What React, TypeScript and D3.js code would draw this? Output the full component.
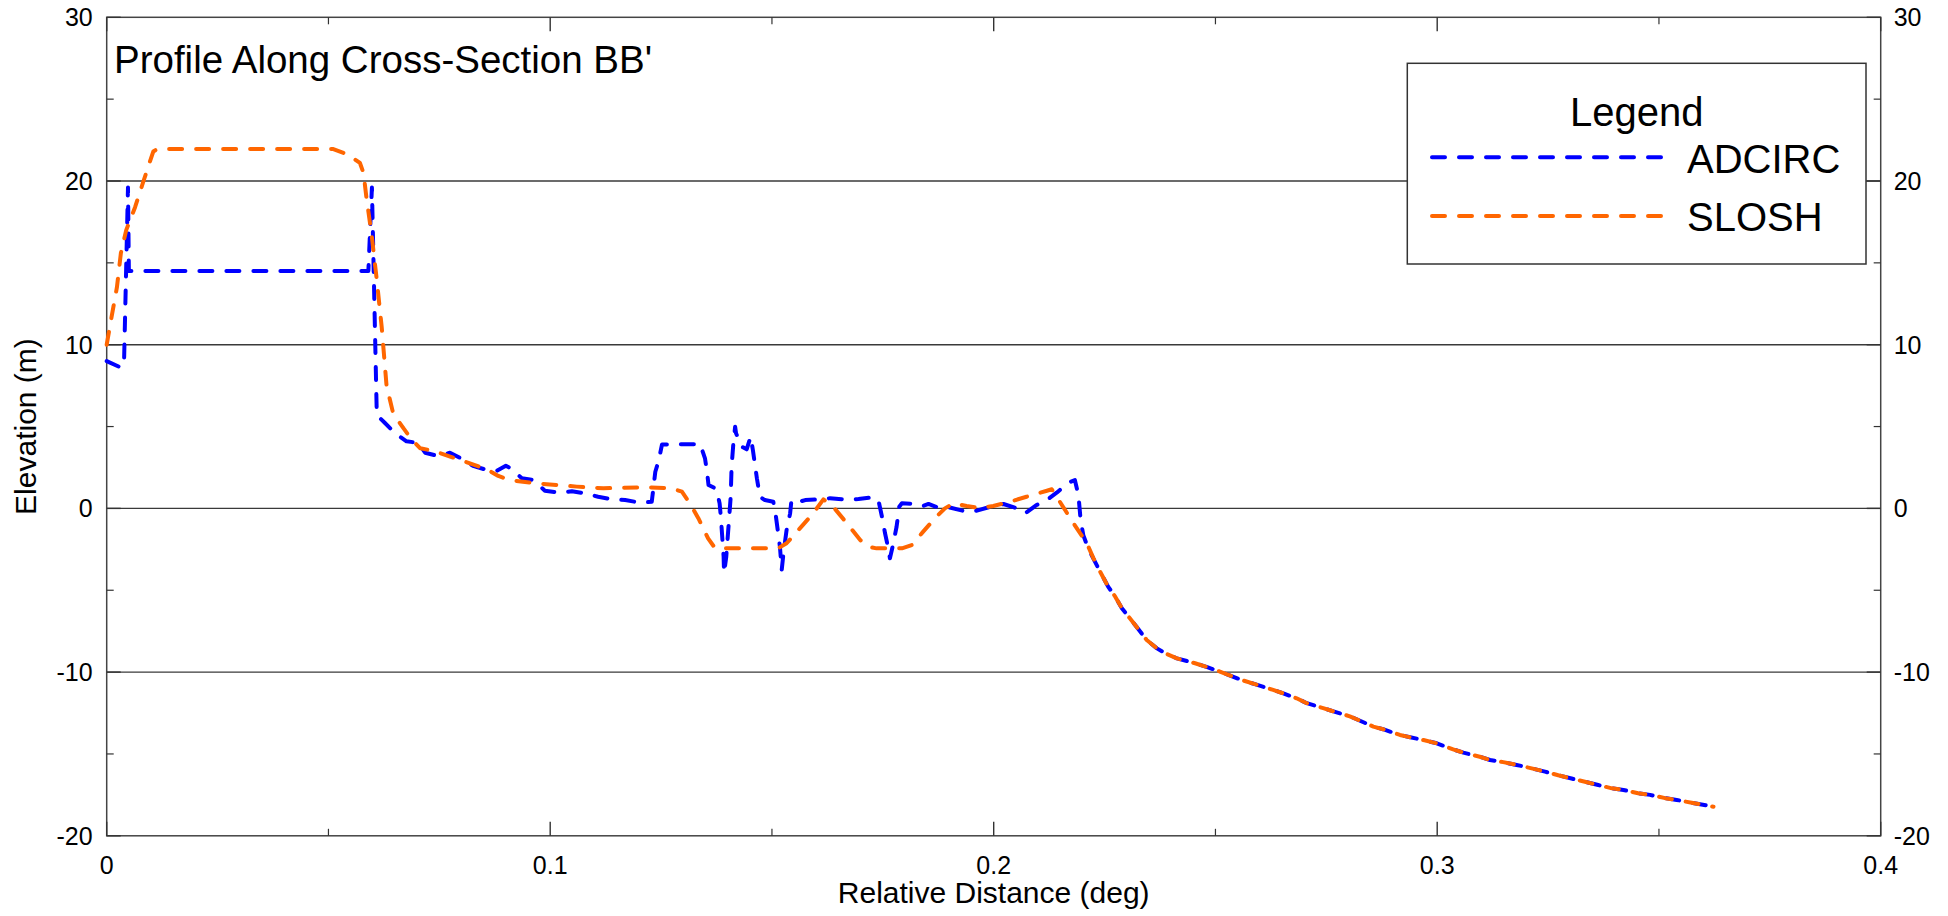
import React from "react";
import * as d3 from "d3";

// ---- data ----
const X_TICKS_MAJOR = [0, 0.1, 0.2, 0.3, 0.4];
const X_TICKS_MINOR = [0.05, 0.15, 0.25, 0.35];
const Y_TICKS_MAJOR = [-20, -10, 0, 10, 20, 30];
const Y_TICKS_MINOR = [-15, -5, 5, 15, 25];
const GRID_Y = [-10, 0, 10, 20];

const TAIL_X = [0.2225, 0.224, 0.2258, 0.2274, 0.2289, 0.2307, 0.2322, 0.2345, 0.2368, 0.239, 0.2413, 0.2454, 0.2483, 0.251, 0.2559, 0.2589, 0.263, 0.2653, 0.2683, 0.2706, 0.2743, 0.2766, 0.2803, 0.2826, 0.2856, 0.2878, 0.2916, 0.2939, 0.2969, 0.2999, 0.3036, 0.3059, 0.3096, 0.3119, 0.3149, 0.3179, 0.3213, 0.3243, 0.3273, 0.3303, 0.3333, 0.3363, 0.3394, 0.342, 0.3453, 0.348, 0.3514, 0.354, 0.3574, 0.3623];
const TAIL_Y = [-3.05, -3.87, -4.78, -5.39, -6.1, -6.71, -7.23, -8.04, -8.55, -8.89, -9.16, -9.46, -9.71, -9.97, -10.48, -10.74, -11.09, -11.3, -11.6, -11.9, -12.2, -12.4, -12.7, -12.97, -13.33, -13.49, -13.84, -13.98, -14.15, -14.35, -14.72, -14.92, -15.17, -15.37, -15.5, -15.67, -15.88, -16.08, -16.3, -16.5, -16.7, -16.9, -17.1, -17.2, -17.4, -17.5, -17.7, -17.81, -17.98, -18.22];

const ADCIRC_X = [0, 0.0032, 0.0039, 0.0048, 0.005, 0.059, 0.0598, 0.0609, 0.0628, 0.065, 0.0676, 0.0703, 0.0718, 0.0747, 0.0774, 0.0803, 0.0826, 0.0857, 0.088, 0.09, 0.0914, 0.0936, 0.0962, 0.0988, 0.1022, 0.1049, 0.1083, 0.1108, 0.1139, 0.1169, 0.1203, 0.1229, 0.1237, 0.1245, 0.1252, 0.1338, 0.1349, 0.1353, 0.1357, 0.1372, 0.1376, 0.1382, 0.1385, 0.1391, 0.1392, 0.1397, 0.1402, 0.1407, 0.1409, 0.1413, 0.1417, 0.1419, 0.1432, 0.1443, 0.1452, 0.1457, 0.1466, 0.1473, 0.1484, 0.1503, 0.1509, 0.1518, 0.1522, 0.1526, 0.1533, 0.1541, 0.1544, 0.1563, 0.1575, 0.1605, 0.1631, 0.1665, 0.1695, 0.1729, 0.174, 0.1748, 0.1755, 0.1763, 0.1766, 0.1772, 0.1781, 0.1787, 0.1793, 0.1826, 0.1841, 0.1853, 0.1879, 0.1898, 0.1939, 0.1962, 0.1999, 0.2022, 0.2052, 0.2071, 0.2097, 0.212, 0.2142, 0.2168, 0.2183, 0.2191, 0.2196, 0.2202, 0.2213, ...TAIL_X.slice(1)];
const ADCIRC_Y = [9.0, 8.6, 8.8, 19.6, 14.5, 14.5, 19.6, 5.7, 5.2, 4.6, 4.1, 4.0, 3.4, 3.2, 3.4, 3.0, 2.6, 2.35, 2.3, 2.6, 2.4, 1.84, 1.73, 1.08, 0.96, 1.05, 0.9, 0.71, 0.56, 0.51, 0.35, 0.4, 2.24, 2.96, 3.9, 3.93, 3.06, 2.35, 1.43, 1.23, 1.02, 0.31, -0.6, -2.95, -3.96, -2.95, -1.12, 0.71, 2.55, 3.98, 4.99, 4.59, 3.77, 3.61, 4.38, 3.57, 1.84, 0.71, 0.51, 0.41, -0.5, -2.34, -3.76, -2.74, -1.32, -0.3, 0.51, 0.41, 0.51, 0.55, 0.62, 0.55, 0.57, 0.68, 0.51, -0.5, -1.52, -2.54, -3.05, -2.34, -1.12, 0.1, 0.31, 0.27, 0.15, 0.27, 0.01, 0.07, -0.2, -0.14, 0.15, 0.27, 0.01, -0.3, 0.21, 0.51, 0.96, 1.57, 1.73, 0.82, -0.7, -1.63, -2.44, ...TAIL_Y.slice(1)];

const SLOSH_X = [0, 0.0011, 0.0023, 0.0032, 0.0044, 0.0064, 0.0083, 0.0105, 0.0114, 0.0511, 0.0545, 0.0571, 0.0579, 0.0586, 0.0597, 0.0609, 0.062, 0.0631, 0.0646, 0.0669, 0.0688, 0.0707, 0.0736, 0.0797, 0.0857, 0.0883, 0.0909, 0.0969, 0.106, 0.112, 0.1218, 0.1274, 0.1297, 0.1315, 0.1334, 0.1356, 0.1372, 0.1514, 0.1533, 0.1563, 0.1593, 0.1616, 0.1638, 0.1669, 0.1699, 0.1717, 0.1736, 0.1793, 0.1815, 0.1841, 0.1871, 0.189, 0.1909, 0.1939, 0.1969, 0.1999, 0.2037, 0.2074, 0.212, 0.2131, 0.2142, 0.2161, 0.218, 0.221, ...TAIL_X];
const SLOSH_Y = [10.0, 11.7, 13.5, 15.6, 17.0, 18.4, 20.0, 21.8, 21.95, 21.95, 21.6, 21.1, 20.5, 18.9, 16.8, 13.95, 11.1, 7.5, 5.8, 4.9, 4.2, 3.67, 3.52, 2.96, 2.39, 1.98, 1.73, 1.53, 1.33, 1.23, 1.29, 1.23, 1.02, 0.31, -0.6, -1.83, -2.44, -2.44, -2.13, -1.22, -0.3, 0.55, 0.1, -0.91, -1.93, -2.34, -2.44, -2.44, -2.24, -1.42, -0.5, 0.0, 0.31, 0.15, 0.01, 0.15, 0.41, 0.71, 1.08, 1.17, 0.71, -0.1, -0.91, -2.13, ...TAIL_Y];

const SERIES = [
  { name: "ADCIRC", color: "#0000ff", xs: ADCIRC_X, ys: ADCIRC_Y },
  { name: "SLOSH", color: "#ff6600", xs: SLOSH_X, ys: SLOSH_Y },
];

const TITLE = "Profile Along Cross-Section BB'";
const X_LABEL = "Relative Distance (deg)";
const Y_LABEL = "Elevation (m)";
const LEGEND_TITLE = "Legend";

// ---- layout ----
const W = 1948;
const H = 916;
const L = 106.7;
const R = 1880.7;
const T = 17.3;
const B = 835.8;
const FONT = "'Liberation Sans', Arial, Helvetica, sans-serif";
const DASH = "13 14";
const TICK_FS = 25;

export default function App() {
  const x = d3.scaleLinear().domain([0, 0.4]).range([L, R]);
  const y = d3.scaleLinear().domain([-20, 30]).range([B, T]);
  const line = d3
    .line<[number, number]>()
    .x((d) => x(d[0]))
    .y((d) => y(d[1]));

  const tickColor = "#333";
  const MAJ = 14;
  const MIN = 7;

  return (
    <svg
      width={W}
      height={H}
      style={{ position: "absolute", left: 0, top: 0, background: "#fff" }}
      fontFamily={FONT}
    >
      <rect x={0} y={0} width={W} height={H} fill="#fff" />
      {/* grid */}
      {GRID_Y.map((v) => (
        <line key={"g" + v} x1={L} x2={R} y1={y(v)} y2={y(v)} stroke="#3a3a3a" strokeWidth={1.4} />
      ))}
      {/* frame */}
      <rect x={L} y={T} width={R - L} height={B - T} fill="none" stroke="#444" strokeWidth={1.5} />
      {/* y ticks left/right */}
      {Y_TICKS_MAJOR.map((v) => (
        <g key={"ym" + v}>
          <line x1={L} x2={L + MAJ} y1={y(v)} y2={y(v)} stroke={tickColor} strokeWidth={1.4} />
          <line x1={R} x2={R - MAJ} y1={y(v)} y2={y(v)} stroke={tickColor} strokeWidth={1.4} />
          <text x={L - 14} y={y(v)} dy="0.36em" textAnchor="end" fontSize={TICK_FS} fill="#000">
            {v}
          </text>
          <text x={R + 13} y={y(v)} dy="0.36em" textAnchor="start" fontSize={TICK_FS} fill="#000">
            {v}
          </text>
        </g>
      ))}
      {Y_TICKS_MINOR.map((v) => (
        <g key={"yn" + v}>
          <line x1={L} x2={L + MIN} y1={y(v)} y2={y(v)} stroke={tickColor} strokeWidth={1.2} />
          <line x1={R} x2={R - MIN} y1={y(v)} y2={y(v)} stroke={tickColor} strokeWidth={1.2} />
        </g>
      ))}
      {/* x ticks top/bottom */}
      {X_TICKS_MAJOR.map((v) => (
        <g key={"xm" + v}>
          <line x1={x(v)} x2={x(v)} y1={B} y2={B - MAJ} stroke={tickColor} strokeWidth={1.4} />
          <line x1={x(v)} x2={x(v)} y1={T} y2={T + MAJ} stroke={tickColor} strokeWidth={1.4} />
          <text x={x(v)} y={874} textAnchor="middle" fontSize={TICK_FS} fill="#000">
            {v}
          </text>
        </g>
      ))}
      {X_TICKS_MINOR.map((v) => (
        <g key={"xn" + v}>
          <line x1={x(v)} x2={x(v)} y1={B} y2={B - MIN} stroke={tickColor} strokeWidth={1.2} />
          <line x1={x(v)} x2={x(v)} y1={T} y2={T + MIN} stroke={tickColor} strokeWidth={1.2} />
        </g>
      ))}
      {/* series */}
      {SERIES.map((s) => (
        <path
          key={s.name}
          d={line(s.xs.map((v, i) => [v, s.ys[i]] as [number, number])) || ""}
          fill="none"
          stroke={s.color}
          strokeWidth={4}
          strokeDasharray={DASH}
          strokeLinecap="round"
          strokeLinejoin="round"
        />
      ))}
      {/* title */}
      <text x={114} y={72.7} fontSize={38.5} fill="#000">
        {TITLE}
      </text>
      {/* axis labels */}
      <text x={(L + R) / 2} y={903} textAnchor="middle" fontSize={30} fill="#000">
        {X_LABEL}
      </text>
      <text
        transform={`translate(36, ${(T + B) / 2}) rotate(-90)`}
        textAnchor="middle"
        fontSize={30}
        fill="#000"
      >
        {Y_LABEL}
      </text>
      {/* legend */}
      <g>
        <rect x={1407.3} y={63.3} width={1866 - 1407.3} height={264 - 63.3} fill="#fff" stroke="#333" strokeWidth={1.5} />
        <text x={(1407.3 + 1866) / 2} y={126} textAnchor="middle" fontSize={40} fill="#000">
          {LEGEND_TITLE}
        </text>
        {SERIES.map((s, i) => (
          <g key={"lg" + s.name}>
            <line
              x1={1432}
              x2={1663}
              y1={157.3 + i * 58.7}
              y2={157.3 + i * 58.7}
              stroke={s.color}
              strokeWidth={4}
              strokeDasharray={DASH}
              strokeLinecap="round"
            />
            <text x={1687} y={172.7 + i * 58} fontSize={40} fill="#000">
              {s.name}
            </text>
          </g>
        ))}
      </g>
    </svg>
  );
}
